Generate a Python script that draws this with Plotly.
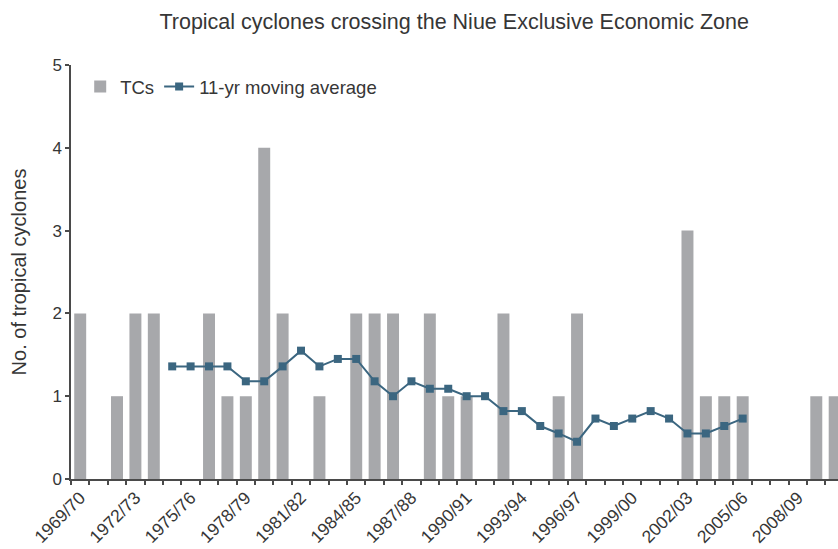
import plotly.graph_objects as go

# Cyclone seasons (July–June), 1969/70 to 2010/11
seasons = [f"{y}/{str(y + 1)[-2:]}" for y in range(1969, 2011)]

# Number of tropical cyclones crossing the EEZ in each season
tc_counts = [2, 0, 1, 2, 2, 0, 0, 2, 1, 1,
             4, 2, 0, 1, 0, 2, 2, 2, 0, 2,
             1, 1, 0, 2, 0, 0, 1, 2, 0, 0,
             0, 0, 0, 3, 1, 1, 1, 0, 0, 0,
             1, 1]

# Centred 11-season moving average (defined for 1974/75 to 2005/06)
ma_seasons = seasons[5:37]
ma_values = [1.36, 1.36, 1.36, 1.36, 1.18, 1.18, 1.36, 1.55, 1.36, 1.45,
             1.45, 1.18, 1.00, 1.18, 1.09, 1.09, 1.00, 1.00, 0.82, 0.82,
             0.64, 0.55, 0.45, 0.73, 0.64, 0.73, 0.82, 0.73, 0.55, 0.55,
             0.64, 0.73]

# Every third season is labelled on the x axis
tick_labels = seasons[0::3]

x_index = {s: i for i, s in enumerate(seasons)}
FONT = "Liberation Sans, Arial, sans-serif"
AXIS_COLOR = "#4a4a4a"
TEXT_COLOR = "#363636"

fig = go.Figure()
fig.add_trace(go.Bar(
    x=[x_index[s] for s in seasons],
    y=tc_counts,
    name="TCs",
    marker=dict(color="#a7a8ab", line=dict(width=0)),
))
fig.add_trace(go.Scatter(
    x=[x_index[s] for s in ma_seasons],
    y=ma_values,
    name="11-yr moving average",
    mode="lines+markers",
    line=dict(color="#3b6680", width=2),
    marker=dict(symbol="square", size=8, color="#3b6680"),
))

fig.update_layout(
    width=838, height=549,
    margin=dict(l=71, r=0, t=65, b=70),
    paper_bgcolor="white", plot_bgcolor="white",
    bargap=0.35,
    font=dict(family=FONT, color=TEXT_COLOR, size=16),
    title=dict(
        text="Tropical cyclones crossing the Niue Exclusive Economic Zone",
        x=0.542, xanchor="center", y=0.96, yanchor="middle",
        font=dict(family=FONT, size=21.5, color=TEXT_COLOR),
    ),
    legend=dict(
        orientation="h", x=0.012, y=0.947, xanchor="left", yanchor="middle",
        font=dict(family=FONT, size=18.5, color=TEXT_COLOR),
        bgcolor="rgba(0,0,0,0)", itemwidth=30,
    ),
    xaxis=dict(
        range=[-0.5, 41.18],
        tickmode="array",
        tickvals=[x_index[s] for s in tick_labels],
        ticktext=tick_labels,
        tickangle=-45,
        ticks="",
        showline=True, linecolor=AXIS_COLOR, linewidth=1.5,
        showgrid=False, zeroline=False,
        tickfont=dict(family=FONT, size=17.5, color=TEXT_COLOR),
        minor=dict(tick0=-0.5, dtick=1, ticks="outside", ticklen=4,
                   tickcolor=AXIS_COLOR, tickwidth=1.5, showgrid=False),
    ),
    yaxis=dict(
        range=[0, 5], dtick=1,
        ticks="outside", ticklen=4, tickcolor=AXIS_COLOR, tickwidth=1.5,
        showline=True, linecolor=AXIS_COLOR, linewidth=1.5,
        showgrid=False, zeroline=False,
        tickfont=dict(family=FONT, size=17, color=TEXT_COLOR),
        title=dict(text="No. of tropical cyclones", standoff=20,
                   font=dict(family=FONT, size=20, color=TEXT_COLOR)),
    ),
)

fig.write_html("out.html")
